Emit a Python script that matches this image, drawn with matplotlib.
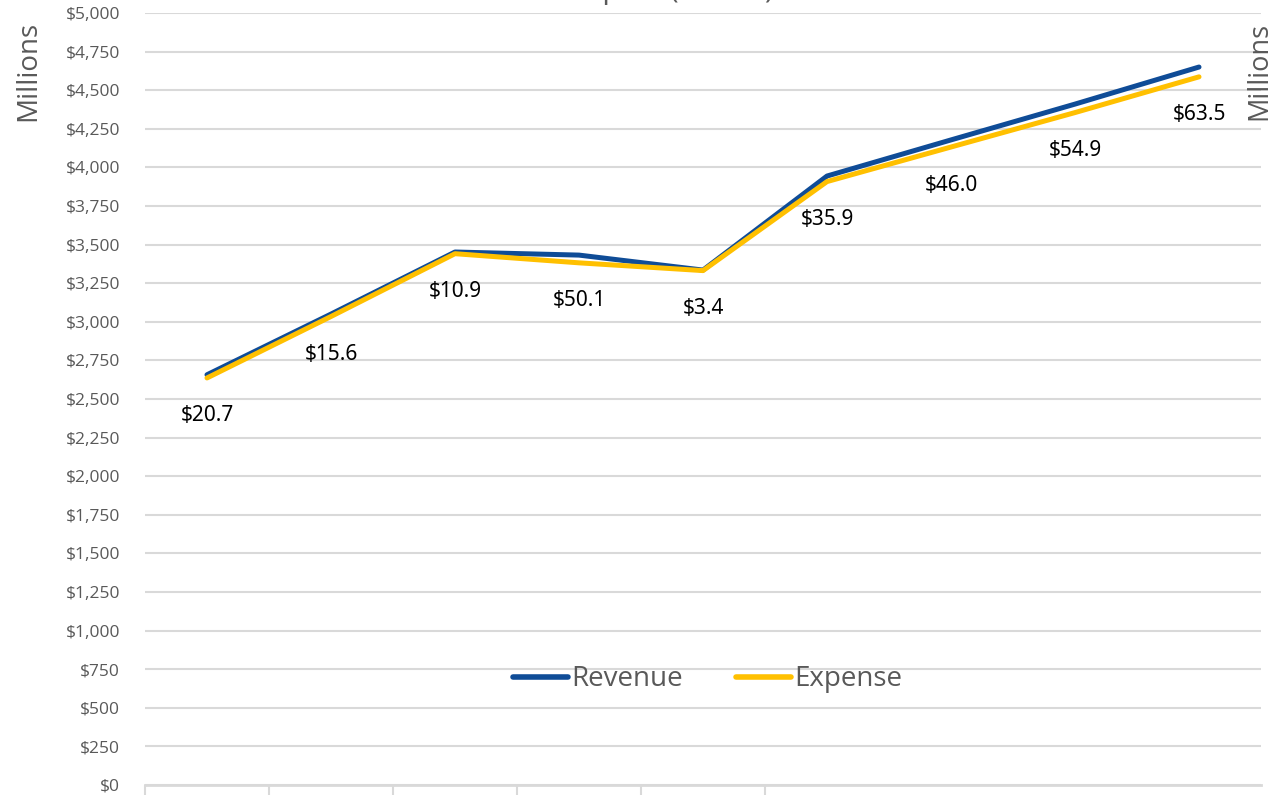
import numpy as np
import matplotlib.pyplot as plt
from matplotlib.ticker import FuncFormatter, FixedLocator

# 数据（单位：百万美元）
periods = ['P1', 'P2', 'P3', 'P4', 'P5', 'P6', 'P7', 'P8', 'P9']
revenue = [2657.0, 3050.0, 3452.0, 3432.0, 3335.0, 3944.0, 4178.0, 4410.0, 4650.0]
expense = [2636.3, 3034.4, 3441.1, 3381.9, 3331.6, 3908.1, 4132.0, 4355.1, 4586.5]

blue = '#0F4C97'
gold = '#FFC000'
grid_c = '#D9D9D9'
text_c = '#595959'

fig = plt.figure(figsize=(12.73, 7.95), dpi=100)
ax = fig.add_axes([145 / 1273, 10 / 795, 1116 / 1273, 772 / 795])

x = np.arange(len(periods))
ax.plot(x, revenue, color=blue, lw=3.6, solid_capstyle='round', label='Revenue', zorder=3)
ax.plot(x, expense, color=gold, lw=3.6, solid_capstyle='round', label='Expense', zorder=4)

# 盈余标签放在支出线下方
for xi, r, e in zip(x, revenue, expense):
    ax.annotate(f'${r - e:.1f}', (xi, e), xytext=(0, -38), textcoords='offset pixels',
                ha='center', va='center', fontsize=15, family='Noto Sans', color='black')

ax.set_xlim(-0.5, len(periods) - 0.5)
ax.set_ylim(0, 5000)
ax.set_yticks(np.arange(0, 5001, 250))
ax.yaxis.set_major_formatter(FuncFormatter(lambda v, p: f'${v:,.0f}'))
ax.tick_params(axis='y', length=0, pad=18, labelsize=12.5, labelcolor=text_c)
for lab in ax.get_yticklabels():
    lab.set_family('Open Sans')
ax.grid(axis='y', color=grid_c, lw=1.5)
ax.set_axisbelow(True)

# x轴只有刻度线
ax.xaxis.set_major_locator(FixedLocator([-0.5, 0.5, 1.5, 2.5, 3.5, 4.5]))
ax.tick_params(axis='x', length=12, width=1.5, color=grid_c, labelbottom=False, direction='out')
for s in ['top', 'left', 'right']:
    ax.spines[s].set_visible(False)
ax.spines['bottom'].set_color(grid_c)
ax.spines['bottom'].set_linewidth(2)

leg = ax.legend(loc='center', bbox_to_anchor=(0.504, 0.137), ncol=2, frameon=False,
                handlelength=2.0, handletextpad=0.1, columnspacing=1.9,
                prop={'family': 'Open Sans', 'size': 20})
for t in leg.get_texts():
    t.set_color(text_c)
for h in leg.get_lines():
    h.set_linewidth(4)

fig.text(28 / 1273, 1 - 71 / 795, 'Millions', rotation=90, ha='center', va='center',
         fontsize=20, family='Open Sans', color=text_c)
fig.text(1259 / 1273, 1 - 71 / 795, 'Millions', rotation=90, ha='center', va='center',
         fontsize=19.5, family='Open Sans', color=text_c)
fig.text(0.5, 1 + 2 / 795, 'Net Surplus/(Deficit)', ha='center', va='baseline',
         fontsize=21, family='Open Sans', color=text_c)

fig.savefig('out.png', dpi=100)
